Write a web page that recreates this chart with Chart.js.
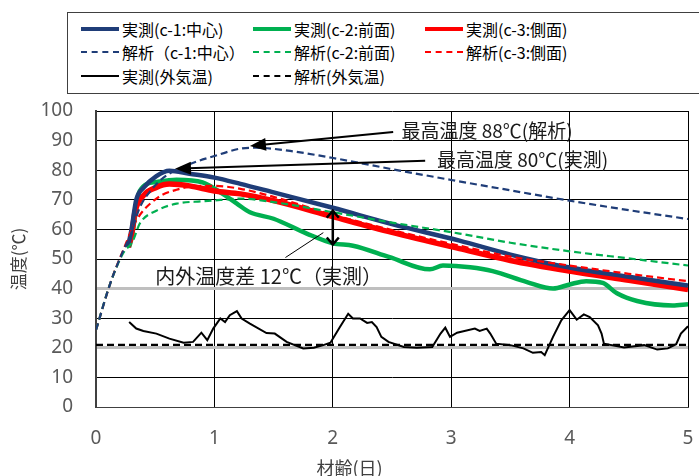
<!DOCTYPE html>
<html>
<head>
<meta charset="utf-8">
<script src="https://cdn.jsdelivr.net/npm/chart.js@4.4.1/dist/chart.umd.min.js"></script>
<style>
  html, body { margin:0; padding:0; background:#fff; overflow:hidden; }
  #wrap { position:relative; width:699px; height:476px; }
  #legend { position:absolute; left:67px; top:12px; width:650px; height:82px; border:1px solid #404040;
            box-sizing:border-box; display:grid; grid-template-columns:172px 172px 172px; grid-auto-rows:23.5px;
            padding:4px 0 0 13px; font-family:"Noto Sans CJK JP", sans-serif; font-size:16px; color:#000; background:#fff; }
  .item { display:flex; align-items:center; white-space:nowrap; }
  .swatch { width:38px; height:0; margin-right:3px; }
</style>
</head>
<body>
<div id="wrap">
  <canvas id="chart_temp"></canvas>
  <div id="legend"></div>
</div>
<script>
// 材齢 (days) / 温度 (°C)
var c1MeasDays = [0.27, 0.30, 0.34, 0.40, 0.51, 0.62, 0.79, 1.0, 1.22, 1.5, 2.0, 2.5, 3.07, 3.5, 4.0, 4.5, 5.0];
var c1MeasTemp = [54, 60, 70, 74, 78, 79.8, 78.8, 77.5, 75.4, 72.5, 67.3, 61.8, 56.2, 51.5, 47.1, 44, 41];

var c2MeasDays = [0.28, 0.30, 0.37, 0.51, 0.68, 0.90, 1.07, 1.19, 1.30, 1.50, 1.78, 2.0, 2.17, 2.48, 2.82, 2.93, 3.16, 3.35, 3.64, 3.86, 4.0, 4.14, 4.28, 4.40, 4.57, 4.87, 5.0];
var c2MeasTemp = [54, 57, 73, 76, 76.8, 75.9, 72, 68.7, 65.8, 63.6, 58.6, 55.3, 54.5, 50.6, 46.5, 47.8, 47.2, 45.9, 42.2, 40, 41.4, 42.5, 41.9, 38.4, 35.8, 34.3, 34.7];

var c3MeasDays = [0.27, 0.30, 0.33, 0.40, 0.51, 0.62, 0.79, 1.0, 1.22, 1.5, 2.0, 2.5, 3.07, 3.5, 4.0, 4.5, 5.0];
var c3MeasTemp = [54, 58, 66, 71.4, 74.2, 75.3, 74.7, 73, 72, 69.7, 64.3, 59, 53.5, 49.5, 45.9, 42.8, 39.7];

var c1CalcDays = [0, 0.12, 0.23, 0.29, 0.37, 0.46, 0.57, 0.79, 1.0, 1.22, 1.35, 1.64, 2.06, 2.48, 3.0, 3.5, 4.0, 4.5, 5.0];
var c1CalcTemp = [26, 41.7, 52.8, 58, 67.4, 73, 77.5, 82, 84.8, 87.3, 87.6, 86.5, 83.7, 80.5, 76.7, 73.2, 69.7, 66.5, 63.5];

var c2CalcDays = [0, 0.12, 0.23, 0.31, 0.37, 0.51, 0.68, 0.9, 1.07, 1.22, 1.5, 2.0, 2.5, 3.07, 3.5, 4.0, 4.5, 5.0];
var c2CalcTemp = [26, 41.7, 52, 56, 62, 66.3, 68.7, 69.5, 70, 70.4, 69.2, 65.8, 62.3, 58.6, 55.5, 52.6, 50.2, 47.8];

var c3CalcDays = [0, 0.12, 0.23, 0.34, 0.51, 0.68, 0.9, 1.0, 1.22, 1.5, 2.0, 2.5, 3.07, 3.5, 4.0, 4.5, 5.0];
var c3CalcTemp = [26, 41.7, 53, 63, 70.4, 73.4, 74.7, 74.7, 73.7, 71, 65, 59.8, 54.5, 50.8, 47.8, 45, 42.5];

var outMeasDays = [0.28, 0.34, 0.40, 0.51, 0.62, 0.74, 0.82, 0.89, 0.94, 0.99, 1.05, 1.09, 1.13, 1.19, 1.23, 1.30, 1.44, 1.51, 1.61, 1.75, 1.84, 1.92, 1.98,
                   2.06, 2.13, 2.17, 2.23, 2.29, 2.33, 2.37, 2.41, 2.47, 2.6, 2.71, 2.84, 2.91, 2.95, 2.99, 3.05, 3.2, 3.24, 3.3, 3.33, 3.38, 3.5, 3.61, 3.69,
                   3.76, 3.79, 3.86, 3.93, 4.0, 4.06, 4.12, 4.17, 4.24, 4.27, 4.29, 4.46, 4.63, 4.74, 4.83, 4.9, 4.94, 5.0];
var outMeasTemp = [28.7, 26.5, 25.7, 24.8, 23.1, 21.7, 22, 25.1, 22.6, 26.5, 29.9, 28.7, 31, 32.4, 29.9, 28.2, 25, 24.8, 22, 19.8, 20, 20.9, 21.7,
                   27, 31.5, 29.9, 29.9, 28.4, 28.7, 27, 23.7, 22, 20.3, 20, 20.3, 24.8, 26.8, 23.7, 25.1, 26.5, 25.7, 26.5, 24.8, 21.4, 20.9, 19.8, 18.3,
                   18.6, 17.5, 23.7, 29.3, 32.7, 29.5, 31.3, 30.4, 27.6, 24.8, 21.4, 20.1, 20.9, 19.4, 19.8, 21.2, 24.8, 27.3];

var outCalcDays = [0, 5];
var outCalcTemp = [21, 21];

var fontJP = '"Noto Sans CJK JP", sans-serif';
var fontNum = '"Noto Sans", sans-serif';

function pts(xs, ys) {
  return xs.map(function (x, i) { return { x: x, y: ys[i] }; });
}

function series(label, xs, ys, color, width, dashed, smooth, order) {
  return {
    label: label,
    data: pts(xs, ys),
    borderColor: color,
    backgroundColor: color,
    borderWidth: width,
    borderDash: dashed ? [7, 4] : [],
    pointRadius: 0,
    fill: false,
    tension: 0,
    cubicInterpolationMode: smooth ? 'monotone' : 'default',
    order: order
  };
}

var datasets = [
  series('実測(c-1:中心)', c1MeasDays, c1MeasTemp, '#1F3D78', 4.5, false, true, 2),
  series('実測(c-2:前面)', c2MeasDays, c2MeasTemp, '#00B050', 4.5, false, true, 4),
  series('実測(c-3:側面)', c3MeasDays, c3MeasTemp, '#FF0000', 5.5, false, true, 3),
  series('解析（c-1:中心）', c1CalcDays, c1CalcTemp, '#1F3D78', 2.2, true, true, 1),
  series('解析(c-2:前面)', c2CalcDays, c2CalcTemp, '#00B050', 2.2, true, true, 1),
  series('解析(c-3:側面)', c3CalcDays, c3CalcTemp, '#FF0000', 2.2, true, true, 1),
  series('実測(外気温)', outMeasDays, outMeasTemp, '#000000', 2, false, false, 1),
  series('解析(外気温)', outCalcDays, outCalcTemp, '#000000', 2.2, true, false, 0)
];

function arrow(ctx, a, b, head, half) {
  var ang = Math.atan2(b[1] - a[1], b[0] - a[0]);
  var c = Math.cos(ang), s = Math.sin(ang);
  ctx.lineWidth = 2;
  ctx.beginPath();
  ctx.moveTo(a[0], a[1]);
  ctx.lineTo(b[0] - c * head * 0.8, b[1] - s * head * 0.8);
  ctx.stroke();
  ctx.beginPath();
  ctx.moveTo(b[0], b[1]);
  ctx.lineTo(b[0] - c * head - s * half, b[1] - s * head + c * half);
  ctx.lineTo(b[0] - c * head + s * half, b[1] - s * head - c * half);
  ctx.closePath();
  ctx.fill();
}

var notes = {
  id: 'notes',
  afterDatasetsDraw: function (chart) {
    var ctx = chart.ctx, x = chart.scales.x, y = chart.scales.y;
    var p = function (t, v) { return [x.getPixelForValue(t), y.getPixelForValue(v)]; };
    ctx.save();
    ctx.strokeStyle = '#000';
    ctx.fillStyle = '#000';
    arrow(ctx, p(2.51, 92.9), p(1.30, 88.2), 16, 6.5);
    arrow(ctx, p(2.78, 83.2), p(0.667, 80.5), 16, 6.5);

    // 内外温度差の両矢印
    var top = p(2.0, 66.3), bot = p(2.0, 54.9);
    ctx.lineWidth = 2.5;
    ctx.beginPath();
    ctx.moveTo(top[0], top[1]); ctx.lineTo(bot[0], bot[1]);
    ctx.moveTo(top[0] - 6, top[1] + 7); ctx.lineTo(top[0], top[1]); ctx.lineTo(top[0] + 6, top[1] + 7);
    ctx.moveTo(bot[0] - 6, bot[1] - 7); ctx.lineTo(bot[0], bot[1]); ctx.lineTo(bot[0] + 6, bot[1] - 7);
    ctx.stroke();
    var l1 = p(1.60, 50.5), l2 = p(1.92, 58.9);
    ctx.lineWidth = 1;
    ctx.beginPath(); ctx.moveTo(l1[0], l1[1]); ctx.lineTo(l2[0], l2[1]); ctx.stroke();

    ctx.fillStyle = '#1a1a1a';
    ctx.textBaseline = 'middle';
    ctx.textAlign = 'left';
    ctx.font = '19px ' + fontJP;
    var t1 = p(2.58, 93.3), t2 = p(2.88, 83.5), t3 = p(0.50, 44.1);
    ctx.fillText('最高温度 88℃(解析)', t1[0], t1[1]);
    ctx.fillText('最高温度 80℃(実測)', t2[0], t2[1]);
    ctx.font = '20px ' + fontJP;
    ctx.fillText('内外温度差 12℃（実測）', t3[0], t3[1]);

    // x軸タイトル
    ctx.fillStyle = '#404040';
    ctx.textAlign = 'center';
    ctx.font = '18px ' + fontJP;
    ctx.fillText('材齢(日)', chart.width / 2, 468);
    ctx.restore();
  }
};

var grayTick = function (c) { return c.tick && (c.tick.value === 20 || c.tick.value === 40); };

var chart_temp = new Chart(document.getElementById('chart_temp'), {
  type: 'line',
  data: { datasets: datasets },
  options: {
    responsive: true,
    maintainAspectRatio: false,
    animation: false,
    layout: { padding: { top: 111, right: 11, left: 0, bottom: 0 } },
    plugins: { legend: { display: false }, tooltip: { enabled: false } },
    scales: {
      x: {
        type: 'linear', min: 0, max: 5,
        ticks: { stepSize: 1, color: '#595959', font: { size: 19, family: fontNum }, padding: 20 },
        grid: { color: '#000', lineWidth: 1, drawTicks: false },
        border: { color: '#404040', width: 1 },
        afterFit: function (s) { s.height = 69; s.paddingLeft = 0; s.paddingRight = 0; }
      },
      y: {
        min: 0, max: 100,
        ticks: { stepSize: 10, color: '#595959', font: { size: 19, family: fontNum }, padding: 23 },
        grid: {
          color: function (c) { return grayTick(c) ? '#BFBFBF' : '#000'; },
          lineWidth: function (c) { return grayTick(c) ? 3 : 1; },
          drawTicks: false
        },
        border: { color: '#404040', width: 2 },
        title: { display: true, text: '温度(℃)', color: '#404040', font: { size: 17, family: fontJP }, padding: { top: 8, bottom: 0 } },
        afterFit: function (s) { s.width = 96; s.paddingTop = 0; s.paddingBottom = 0; }
      }
    }
  },
  plugins: [notes]
});

// 凡例 (3列)
var legend = document.getElementById('legend');
chart_temp.data.datasets.forEach(function (ds) {
  var item = document.createElement('div');
  item.className = 'item';
  var sw = document.createElement('span');
  sw.className = 'swatch';
  var w = ds.borderDash.length ? 2 : (ds.borderColor === '#000000' ? 2.5 : 4);
  sw.style.borderTop = w + 'px ' + (ds.borderDash.length ? 'dashed ' : 'solid ') + ds.borderColor;
  var txt = document.createElement('span');
  txt.textContent = ds.label;
  item.appendChild(sw);
  item.appendChild(txt);
  legend.appendChild(item);
});
</script>
</body>
</html>
